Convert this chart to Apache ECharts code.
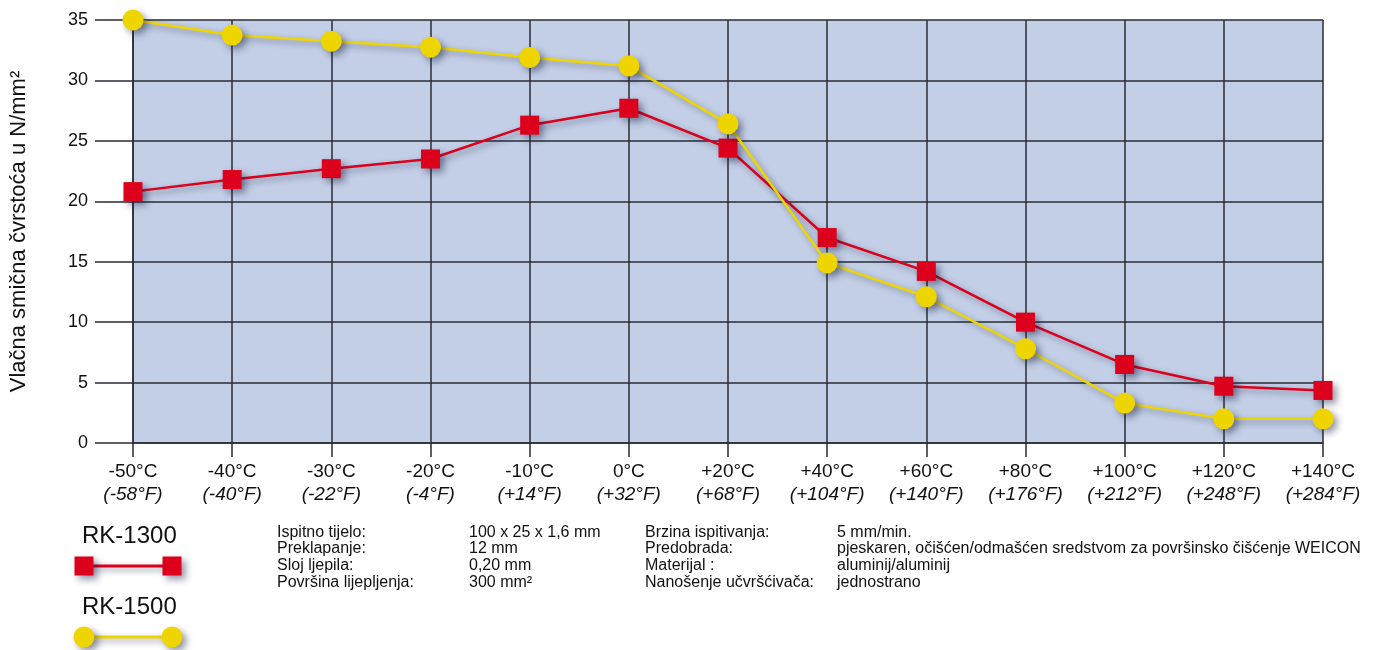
<!DOCTYPE html>
<html>
<head>
<meta charset="utf-8">
<script src="https://cdn.jsdelivr.net/npm/echarts@6/dist/echarts.min.js"></script>
<style>
html,body{margin:0;padding:0;background:#fff;}
#chart{width:1373px;height:650px;}
</style>
</head>
<body>
<div id="chart"></div>
<script>
// ---- data ----
var catC = ['-50°C','-40°C','-30°C','-20°C','-10°C','0°C','+20°C','+40°C','+60°C','+80°C','+100°C','+120°C','+140°C'];
var catF = ['(-58°F)','(-40°F)','(-22°F)','(-4°F)','(+14°F)','(+32°F)','(+68°F)','(+104°F)','(+140°F)','(+176°F)','(+212°F)','(+248°F)','(+284°F)'];
var rk1300 = [20.8, 21.8, 22.7, 23.5, 26.3, 27.7, 24.4, 17.0, 14.2, 10.0, 6.5, 4.7, 4.35];
var rk1500 = [35.0, 33.75, 33.25, 32.75, 31.9, 31.2, 26.4, 14.9, 12.1, 7.8, 3.3, 2.0, 2.0];
var seriesNames = ['RK-1300', 'RK-1500'];
var yAxisTitle = 'Vlačna smična čvrstoća u N/mm²';
var infoLabels1 = ['Ispitno tijelo:', 'Preklapanje:', 'Sloj ljepila:', 'Površina lijepljenja:'];
var infoValues1 = ['100 x 25 x 1,6 mm', '12 mm', '0,20 mm', '300 mm²'];
var infoLabels2 = ['Brzina ispitivanja:', 'Predobrada:', 'Materijal :', 'Nanošenje učvršćivača:'];
var infoValues2 = ['5 mm/min.', 'pjeskaren, očišćen/odmašćen sredstvom za površinsko čišćenje WEICON', 'aluminij/aluminij', 'jednostrano'];

var FONT = '"Liberation Sans", Arial, Helvetica, sans-serif';
var RED = '#dc001c';
var YEL = '#eed500';
var GRIDC = '#2a2d35';
var SH = 'rgba(20,25,60,0.45)';

var chart = echarts.init(document.getElementById('chart'));

function legendItem(yText, yLine, name, color, sym) {
  var els = [];
  els.push({type:'text', x: 82, y: yText, style:{text:name, font:'24px ' + FONT, fill:'#111', textVerticalAlign:'middle'}});
  els.push({type:'line', shape:{x1:84, y1:yLine, x2:172, y2:yLine},
    style:{stroke:color, lineWidth:3, shadowBlur:6, shadowOffsetX:3, shadowOffsetY:3, shadowColor:SH}});
  [84, 172].forEach(function(cx){
    if (sym === 'rect') {
      els.push({type:'rect', shape:{x:cx-9.5, y:yLine-9.5, width:19, height:19},
        style:{fill:color, shadowBlur:7, shadowOffsetX:4, shadowOffsetY:4, shadowColor:SH}});
    } else {
      els.push({type:'circle', shape:{cx:cx, cy:yLine, r:10.5},
        style:{fill:color, shadowBlur:7, shadowOffsetX:4, shadowOffsetY:4, shadowColor:SH}});
    }
  });
  return els;
}

var graphics = [];
graphics = graphics.concat(legendItem(536, 566, seriesNames[0], RED, 'rect'));
graphics = graphics.concat(legendItem(607, 637, seriesNames[1], YEL, 'circle'));
function infoCol(x, lines) {
  return {type:'text', x:x, y:524, style:{text:lines.join('\n'), font:'16px ' + FONT, lineHeight:16.7, fill:'#111'}};
}
graphics.push(infoCol(277, infoLabels1));
graphics.push(infoCol(469, infoValues1));
graphics.push(infoCol(645, infoLabels2));
graphics.push(infoCol(837, infoValues2));

var option = {
  backgroundColor: '#ffffff',
  animation: false,
  grid: {left:133, right:50, top:20, bottom:207, show:true, backgroundColor:'#c3cfe6', borderWidth:0},
  xAxis: {
    type:'category', data: catC, boundaryGap:false,
    axisLine:{show:true, lineStyle:{color:GRIDC, width:1.5}},
    axisTick:{show:true, length:14, lineStyle:{color:GRIDC, width:1.5}},
    splitLine:{show:true, lineStyle:{color:GRIDC, width:1.5}},
    axisLabel:{
      margin: 17,
      formatter: function(v, i){ return '{c|' + v + '}\n{f|' + catF[i] + '}'; },
      rich:{
        c:{fontSize:19, fontFamily:FONT, color:'#111', lineHeight:23},
        f:{fontSize:19, fontFamily:FONT, fontStyle:'italic', color:'#111', lineHeight:23}
      }
    }
  },
  yAxis: {
    type:'value', min:0, max:35, interval:5,
    name: yAxisTitle, nameLocation:'middle', nameGap:103, nameRotate:90,
    nameTextStyle:{fontSize:22, fontFamily:FONT, color:'#111'},
    axisLine:{show:true, lineStyle:{color:GRIDC, width:1.5}},
    axisTick:{show:true, length:38, lineStyle:{color:GRIDC, width:1.5}},
    splitLine:{show:true, lineStyle:{color:GRIDC, width:1.5}},
    axisLabel:{fontSize:18, fontFamily:FONT, color:'#111', margin:45}
  },
  series: [
    {
      name: seriesNames[0], type:'line', data: rk1300,
      symbol:'rect', symbolSize:19,
      lineStyle:{color:RED, width:2.5, shadowBlur:6, shadowOffsetX:3, shadowOffsetY:3, shadowColor:SH},
      itemStyle:{color:RED, shadowBlur:7, shadowOffsetX:4, shadowOffsetY:4, shadowColor:SH},
      z:3
    },
    {
      name: seriesNames[1], type:'line', data: rk1500,
      symbol:'circle', symbolSize:21,
      lineStyle:{color:YEL, width:2.5, shadowBlur:6, shadowOffsetX:3, shadowOffsetY:3, shadowColor:SH},
      itemStyle:{color:YEL, shadowBlur:7, shadowOffsetX:4, shadowOffsetY:4, shadowColor:SH},
      z:4
    }
  ],
  graphic: graphics
};
chart.setOption(option);
</script>
</body>
</html>
